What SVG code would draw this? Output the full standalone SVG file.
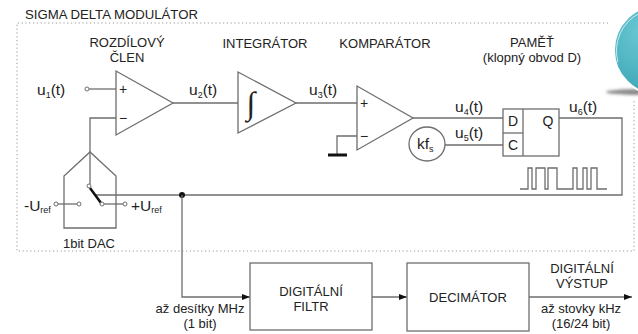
<svg xmlns="http://www.w3.org/2000/svg" width="638" height="334" viewBox="0 0 638 334">
  <defs>
    <style>
      text { font-family: "Liberation Sans", Arial, sans-serif; fill: #222; }
      .lbl { font-size: 13px; text-anchor: middle; }
      .sig { font-size: 15.5px; }
      .sub { font-size: 9px; }
      .pm { font-size: 14px; text-anchor: middle; }
      .w { fill: none; stroke: #6e6e6e; stroke-width: 1.3; }
      .box { fill: #fff; stroke: #6e6e6e; stroke-width: 1.3; }
      .term { fill: #fff; stroke: #6e6e6e; stroke-width: 1; }
      .frame { fill: none; stroke: #9a9a9a; stroke-width: 1; stroke-dasharray: 1.2 2.6; }
    </style>
    <marker id="arrow" viewBox="0 0 8 6" refX="8" refY="3" markerWidth="8" markerHeight="6" markerUnits="userSpaceOnUse" orient="auto">
      <path d="M0,0 L8,3 L0,6 Z" fill="#111"/>
    </marker>
    <radialGradient id="teal" cx="0.35" cy="0.3" r="0.8">
      <stop offset="0" stop-color="#6cc9d4"/>
      <stop offset="1" stop-color="#36a2b2"/>
    </radialGradient>
    <filter id="soft" x="-20%" y="-200%" width="140%" height="500%">
      <feGaussianBlur stdDeviation="1.6"/>
    </filter>
  </defs>

  <rect width="638" height="334" fill="#fff"/>

  <!-- modulator frame -->
  <g id="frame">
    <path class="frame" d="M608,23 H17 V251 H634 V100"/>
    <text x="25" y="19" style="font-size:13.2px">SIGMA DELTA MODULÁTOR</text>
  </g>

  <!-- decorative bubble in the corner -->
  <g id="bubble">
    <ellipse cx="640" cy="92" rx="34" ry="3" fill="#8a8a8a" filter="url(#soft)"/>
    <circle cx="659" cy="50" r="45" fill="url(#teal)" stroke="#fff" stroke-width="2"/>
    <path d="M618,62 A42,42 0 0 1 640,13" fill="none" stroke="#e8f7f9" stroke-width="1" opacity="0.8"/>
  </g>

  <!-- connectors -->
  <g id="connectors">
    <circle class="term" cx="87" cy="89" r="2"/>
    <line class="w" x1="89" y1="89" x2="116" y2="89"/>
    <polyline class="w" points="116,118 90,118 90,184"/>
    <line class="w" x1="173" y1="103" x2="238" y2="103"/>
    <line class="w" x1="296" y1="103" x2="357" y2="103"/>
    <polyline class="w" points="357,136 337,136 337,155"/>
    <line x1="328" y1="155" x2="347" y2="155" stroke="#111" stroke-width="3"/>
    <line class="w" x1="413" y1="118" x2="503" y2="118"/>
    <line class="w" x1="445" y1="145" x2="503" y2="145"/>
    <polyline class="w" points="559,118 622,118 622,195 95,195"/>
    <circle cx="182" cy="195" r="3" fill="#111"/>
    <polyline class="w" points="182,195 182,297 250,297" marker-end="url(#arrow)"/>
    <line class="w" x1="372" y1="297" x2="407" y2="297" marker-end="url(#arrow)"/>
    <line class="w" x1="529" y1="297" x2="632" y2="297" marker-end="url(#arrow)"/>
    <!-- output bitstream -->
    <polyline class="w" points="520,189 528,189 528,168 532,168 532,189 536,189 536,168 545,168 545,189 548,189 548,168 557,168 557,189 573,189 573,168 577,168 577,189 583,189 583,168 587,168 587,189 591,189 591,168 597,168 597,189 607,189"/>
    <text class="sig" x="37" y="95">u<tspan class="sub" dy="3">1</tspan><tspan dy="-3">(t)</tspan></text>
    <text class="sig" x="189" y="95">u<tspan class="sub" dy="3">2</tspan><tspan dy="-3">(t)</tspan></text>
    <text class="sig" x="309" y="95">u<tspan class="sub" dy="3">3</tspan><tspan dy="-3">(t)</tspan></text>
    <text class="sig" x="455" y="112">u<tspan class="sub" dy="3">4</tspan><tspan dy="-3">(t)</tspan></text>
    <text class="sig" x="455" y="138">u<tspan class="sub" dy="3">5</tspan><tspan dy="-3">(t)</tspan></text>
    <text class="sig" x="569" y="112">u<tspan class="sub" dy="3">6</tspan><tspan dy="-3">(t)</tspan></text>
  </g>

  <g id="rozdilovy-clen">
    <polygon class="box" points="116,71 116,135 173,103"/>
    <text class="pm" x="123" y="94">+</text>
    <text class="pm" x="123" y="123">−</text>
    <text class="lbl" x="127" y="47">ROZDÍLOVÝ</text>
    <text class="lbl" x="127" y="62">ČLEN</text>
  </g>

  <g id="integrator">
    <polygon class="box" points="238,72 238,133 296,103"/>
    <text x="251" y="114" style="font-size:32px;text-anchor:middle;font-family:'Liberation Serif',serif">∫</text>
    <text class="lbl" x="265" y="48">INTEGRÁTOR</text>
  </g>

  <g id="komparator">
    <polygon class="box" points="357,86 357,150 413,118"/>
    <text class="pm" x="364" y="108">+</text>
    <text class="pm" x="364" y="141">−</text>
    <text class="lbl" x="385" y="48">KOMPARÁTOR</text>
  </g>

  <g id="clock">
    <ellipse class="box" cx="427" cy="144" rx="18" ry="17"/>
    <text class="sig" x="417" y="149">kf<tspan class="sub" dy="3">s</tspan></text>
  </g>

  <g id="pamet">
    <rect class="box" x="503" y="109" width="56" height="47"/>
    <line class="w" x1="523" y1="109" x2="523" y2="156"/>
    <line class="w" x1="503" y1="133" x2="523" y2="133"/>
    <text class="pm" x="513" y="126">D</text>
    <text class="pm" x="513" y="150">C</text>
    <text class="pm" x="548" y="126">Q</text>
    <text class="lbl" x="532" y="47">PAMĚŤ</text>
    <text class="lbl" x="532" y="62">(klopný obvod D)</text>
  </g>

  <g id="dac">
    <polygon class="w" points="64,228 64,176 90,152 116,176 116,228"/>
    <line x1="90" y1="188" x2="101" y2="203" stroke="#111" stroke-width="2.5"/>
    <circle class="term" cx="89" cy="186" r="2"/>
    <line class="w" x1="58" y1="204" x2="77" y2="204"/>
    <line class="w" x1="104" y1="204" x2="123" y2="204"/>
    <circle class="term" cx="56" cy="204" r="2"/>
    <circle class="term" cx="79" cy="204" r="2"/>
    <circle class="term" cx="102" cy="204" r="2"/>
    <circle class="term" cx="125" cy="204" r="2"/>
    <text class="sig" x="24" y="211">-U<tspan class="sub" dy="2">ref</tspan></text>
    <text class="sig" x="131" y="211">+U<tspan class="sub" dy="2">ref</tspan></text>
    <text class="lbl" x="89" y="248">1bit DAC</text>
  </g>

  <g id="digitalni-filtr">
    <rect class="box" x="250" y="263" width="122" height="67"/>
    <text class="lbl" x="311" y="296">DIGITÁLNÍ</text>
    <text class="lbl" x="311" y="311">FILTR</text>
    <text class="lbl" x="200" y="313">až desítky MHz</text>
    <text class="lbl" x="200" y="328">(1 bit)</text>
  </g>

  <g id="decimator">
    <rect class="box" x="407" y="263" width="122" height="68"/>
    <text class="lbl" x="468" y="302">DECIMÁTOR</text>
  </g>

  <g id="vystup">
    <text class="lbl" x="582" y="273">DIGITÁLNÍ</text>
    <text class="lbl" x="582" y="288">VÝSTUP</text>
    <text class="lbl" x="581" y="313">až stovky kHz</text>
    <text class="lbl" x="581" y="328">(16/24 bit)</text>
  </g>
</svg>
